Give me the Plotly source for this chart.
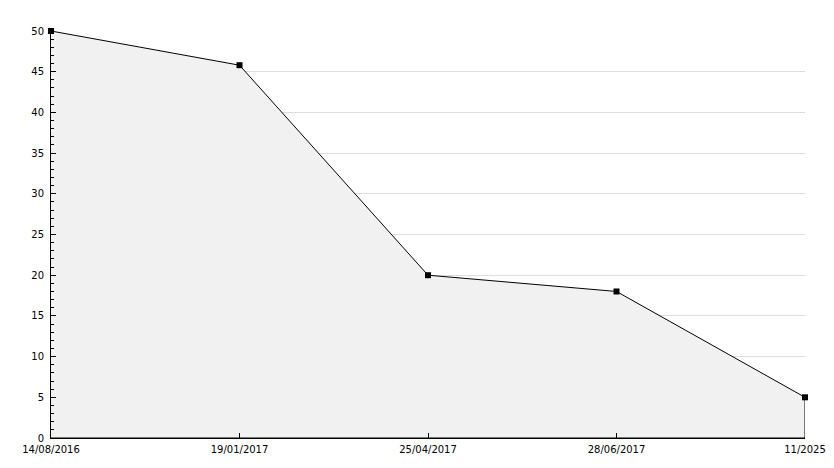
import plotly.graph_objects as go

dates = ["14/08/2016", "19/01/2017", "25/04/2017", "28/06/2017", "11/2025"]
values = [50, 45.8, 20, 18, 5]
y_ticks = [0, 5, 10, 15, 20, 25, 30, 35, 40, 45, 50]

fig = go.Figure()
# filled area outline (closed polygon down to zero)
fig.add_trace(go.Scatter(
    x=dates + [dates[-1], dates[0]],
    y=values + [0, 0],
    mode="lines",
    fill="toself",
    fillcolor="#f1f1f1",
    line=dict(color="black", width=1),
    hoverinfo="skip",
    showlegend=False,
    cliponaxis=False,
))
fig.add_trace(go.Scatter(
    x=dates, y=values,
    mode="markers",
    marker=dict(symbol="square", size=6, color="black"),
    showlegend=False,
    cliponaxis=False,
))

# page body has an 8px default margin; margins compensate for it
fig.update_layout(
    width=834, height=468,
    margin=dict(l=43, r=37, t=23, b=38),
    paper_bgcolor="white", plot_bgcolor="white",
    font=dict(family="DejaVu Sans", size=10, color="black"),
    xaxis=dict(
        type="category", categoryorder="array", categoryarray=dates,
        range=[0, len(dates) - 1],
        automargin=False,
        showgrid=False, zeroline=False,
        showline=True, linecolor="black", linewidth=1,
        ticks="inside", ticklen=5, tickcolor="black",
        tickvals=dates, ticktext=dates,
        ticklabelstandoff=2,
    ),
    yaxis=dict(
        range=[0, 50], tickvals=y_ticks,
        automargin=False,
        showgrid=True, gridcolor="#dddddd", gridwidth=1,
        zeroline=False,
        showline=True, linecolor="black", linewidth=1,
        ticks="inside", ticklen=5, tickcolor="black",
        ticklabelstandoff=4,
        minor=dict(dtick=1, ticks="inside", ticklen=3, tickcolor="black", showgrid=False),
    ),
)

fig.write_html("out.html")
